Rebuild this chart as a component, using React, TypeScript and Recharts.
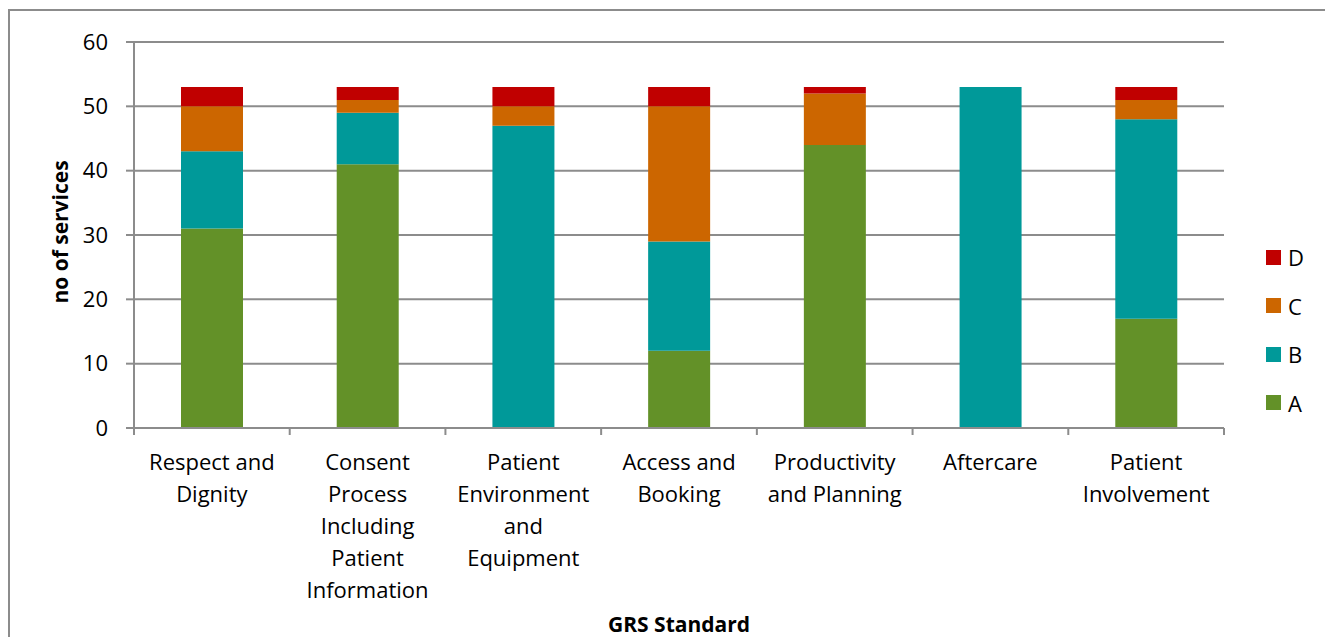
import React from 'react';
import { BarChart, Bar, XAxis, YAxis, CartesianGrid, Legend, Label } from 'recharts';

const categories = [
  'Respect and Dignity',
  'Consent Process Including Patient Information',
  'Patient Environment and Equipment',
  'Access and Booking',
  'Productivity and Planning',
  'Aftercare',
  'Patient Involvement',
];

const tickLines = [
  ['Respect and', 'Dignity'],
  ['Consent', 'Process', 'Including', 'Patient', 'Information'],
  ['Patient', 'Environment', 'and', 'Equipment'],
  ['Access and', 'Booking'],
  ['Productivity', 'and Planning'],
  ['Aftercare'],
  ['Patient', 'Involvement'],
];

const gradeA = [31, 41, 0, 12, 44, 0, 17];
const gradeB = [12, 8, 47, 17, 0, 53, 31];
const gradeC = [7, 2, 3, 21, 8, 0, 3];
const gradeD = [3, 2, 3, 3, 1, 0, 2];

const yTicks = [0, 10, 20, 30, 40, 50, 60];

const COLORS = { A: '#639128', B: '#009999', C: '#CC6600', D: '#C00000' };
const FONT = '"Open Sans", sans-serif';
const AXIS_GREY = '#8c8c8c';

const data = categories.map((name, i) => ({
  name,
  A: gradeA[i],
  B: gradeB[i],
  C: gradeC[i],
  D: gradeD[i],
}));

const CategoryTick = (props: any) => {
  const { x, y, index, width } = props;
  const bw = (width ?? 1090) / categories.length;
  const lines = tickLines[index] || [];
  const isLast = index === categories.length - 1;
  return (
    <g>
      <line x1={x - bw / 2} x2={x - bw / 2} y1={y} y2={y + 7} stroke={AXIS_GREY} strokeWidth={2} />
      {isLast && <line x1={x + bw / 2} x2={x + bw / 2} y1={y} y2={y + 7} stroke={AXIS_GREY} strokeWidth={2} />}
      <text x={x} y={y} textAnchor="middle" fontSize={22} fontFamily={FONT} fill="#000">
        {lines.map((l, i) => (
          <tspan key={i} x={x} dy={i === 0 ? 42 : 32}>
            {l}
          </tspan>
        ))}
      </text>
    </g>
  );
};

const LegendContent = (props: any) => {
  const items = [...(props.payload || [])].reverse();
  return (
    <div style={{ fontFamily: FONT, fontSize: 22 }}>
      {items.map((it: any) => (
        <div key={it.value} style={{ display: 'flex', alignItems: 'center', height: 48.5 }}>
          <span style={{ width: 15, height: 15, background: it.color, display: 'inline-block', marginRight: 7 }} />
          <span>{it.value}</span>
        </div>
      ))}
    </div>
  );
};

export default function App() {
  return (
    <div
      style={{
        width: 1320,
        height: 640,
        border: `2px solid ${AXIS_GREY}`,
        marginTop: 1,
        background: '#fff',
      }}
    >
      <BarChart
        width={1320}
        height={640}
        data={data}
        margin={{ top: 31, right: 46, left: 0, bottom: 0 }}
        barSize={62}
      >
        <CartesianGrid vertical={false} stroke={AXIS_GREY} strokeWidth={2} />
        <XAxis
          dataKey="name"
          height={223}
          interval={0}
          tickSize={0}
          tickMargin={0}
          tickLine={false}
          tick={<CategoryTick />}
          stroke={AXIS_GREY}
          strokeWidth={2}
        >
          <Label
            content={({ viewBox }: any) => (
              <text
                x={viewBox.x + viewBox.width / 2}
                y={viewBox.y + 204}
                textAnchor="middle"
                fontFamily={FONT}
                fontSize={21}
                fontWeight="bold"
                fill="#000"
              >
                GRS Standard
              </text>
            )}
          />
        </XAxis>
        <YAxis
          width={124}
          domain={[0, 60]}
          ticks={yTicks}
          interval={0}
          tickSize={8}
          tickMargin={18}
          stroke={AXIS_GREY}
          strokeWidth={2}
          tick={{ fill: '#000', fontSize: 22, fontFamily: FONT }}
        >
          <Label
            content={({ viewBox }: any) => {
              const cx = viewBox.x + 50;
              const cy = viewBox.y + viewBox.height / 2 - 3;
              return (
                <text
                  x={cx}
                  y={cy}
                  transform={`rotate(-90 ${cx} ${cy})`}
                  textAnchor="middle"
                  dominantBaseline="central"
                  fontFamily={FONT}
                  fontSize={21}
                  fontWeight="bold"
                  fill="#000"
                >
                  no of services
                </text>
              );
            }}
          />
        </YAxis>
        <Legend
          layout="vertical"
          align="right"
          verticalAlign="middle"
          content={<LegendContent />}
          wrapperStyle={{ position: 'absolute', left: 1256, top: 222, width: 60, bottom: 'auto', right: 'auto' }}
        />
        <Bar dataKey="A" stackId="s" fill={COLORS.A} isAnimationActive={false} />
        <Bar dataKey="B" stackId="s" fill={COLORS.B} isAnimationActive={false} />
        <Bar dataKey="C" stackId="s" fill={COLORS.C} isAnimationActive={false} />
        <Bar dataKey="D" stackId="s" fill={COLORS.D} isAnimationActive={false} />
      </BarChart>
    </div>
  );
}
